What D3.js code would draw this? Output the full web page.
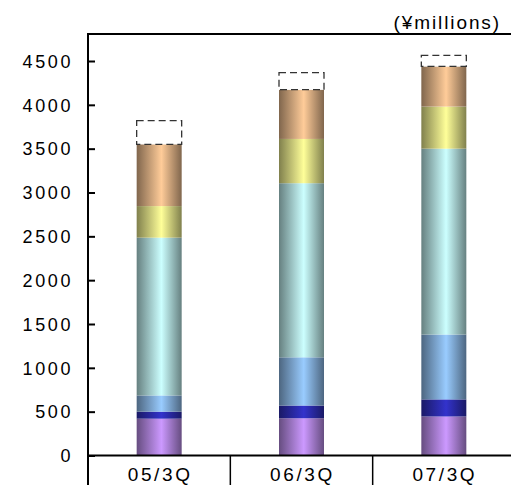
<!DOCTYPE html>
<html>
<head>
<meta charset="utf-8">
<script src="https://cdn.jsdelivr.net/npm/d3@7/dist/d3.min.js"></script>
<style>
  html, body { margin: 0; padding: 0; background: #fff; }
  svg { display: block; }
</style>
</head>
<body>
<svg id="chart" width="511" height="485"></svg>
<script>
// Quarterly figures (¥ millions), stacked from the bottom up
const periods = ["05/3Q", "06/3Q", "07/3Q"];
const seriesKeys = ["s1", "s2", "s3", "s4", "s5", "s6"];
const s1 = [420, 425, 445];
const s2 = [80, 145, 195];
const s3 = [185, 550, 740];
const s4 = [1800, 1986, 2120];
const s5 = [360, 505, 480];
const s6 = [705, 562, 458];
// Dashed outline above each stack (target / forecast portion)
const outlineTop = [3820, 4367, 4565];
const yTicks = [0, 500, 1000, 1500, 2000, 2500, 3000, 3500, 4000, 4500];
const unitLabel = "(¥millions)";

const seriesColors = ["#cc99ff", "#3333cc", "#99ccff", "#ccffff", "#ffff99", "#ffcc99"];

const values = [s1, s2, s3, s4, s5, s6];
const table = periods.map((p, i) => {
  const row = { period: p };
  seriesKeys.forEach((k, j) => { row[k] = values[j][i]; });
  return row;
});

const svg = d3.select("#chart");
const plotLeft = 88, plotRight = 515, plotTop = 34, zeroY = 455.5;
const labelFont = "'Liberation Sans', Arial, sans-serif";

const x = d3.scaleBand().domain(periods).range([plotLeft, plotRight]).paddingInner(0).paddingOuter(0);
const y = d3.scaleLinear().domain([0, 4500]).range([zeroY, 61]);
const barW = 45;

// Cylinder-like horizontal shading for each series colour
const defs = svg.append("defs");
seriesColors.forEach((c, i) => {
  const dark = d3.interpolateRgb(c, "#000")(0.5);
  const g = defs.append("linearGradient").attr("id", "grad" + i)
    .attr("x1", "0%").attr("x2", "100%").attr("y1", "0%").attr("y2", "0%");
  g.append("stop").attr("offset", "0%").attr("stop-color", dark);
  g.append("stop").attr("offset", "55%").attr("stop-color", c);
  g.append("stop").attr("offset", "100%").attr("stop-color", dark);
});

const stack = d3.stack().keys(seriesKeys);
const layers = stack(table);

const barsG = svg.append("g");
layers.forEach((layer, li) => {
  barsG.selectAll(null).data(layer).enter().append("rect")
    .attr("x", d => x(d.data.period) + x.bandwidth() / 2 - barW / 2)
    .attr("width", barW)
    .attr("y", d => y(d[1]))
    .attr("height", d => y(d[0]) - y(d[1]))
    .attr("fill", `url(#grad${li})`);
});

// Dashed outlines sitting on top of each stack
const totals = table.map(r => seriesKeys.reduce((a, k) => a + r[k], 0));
svg.append("g").selectAll("rect").data(periods).enter().append("rect")
  .attr("x", (p) => x(p) + x.bandwidth() / 2 - barW / 2)
  .attr("width", barW)
  .attr("y", (p, i) => y(outlineTop[i]))
  .attr("height", (p, i) => y(totals[i]) - y(outlineTop[i]))
  .attr("fill", "#fff")
  .attr("stroke", "#333")
  .attr("stroke-width", 1.3)
  .attr("stroke-dasharray", "7,4");

// Y axis with inward ticks
const yAxis = d3.axisLeft(y).tickValues(yTicks).tickFormat(d3.format("d")).tickSize(0).tickPadding(0);
const yg = svg.append("g").attr("transform", `translate(${plotLeft},0)`).call(yAxis);
yg.select(".domain").remove();
yg.selectAll(".tick text")
  .attr("x", -15)
  .attr("dy", "0.35em")
  .style("font-family", labelFont)
  .style("font-size", "18px")
  .style("letter-spacing", "2.6px")
  .attr("fill", "#000");
yg.selectAll(".tick").append("line")
  .attr("x1", 0).attr("x2", 7).attr("stroke", "#000").attr("stroke-width", 2);

// Frame lines
svg.append("line").attr("x1", plotLeft).attr("x2", plotLeft).attr("y1", plotTop).attr("y2", 485)
  .attr("stroke", "#000").attr("stroke-width", 2);
svg.append("line").attr("x1", plotLeft - 1).attr("x2", 511).attr("y1", plotTop).attr("y2", plotTop)
  .attr("stroke", "#000").attr("stroke-width", 2);
svg.append("line").attr("x1", plotLeft - 1).attr("x2", 511).attr("y1", zeroY).attr("y2", zeroY)
  .attr("stroke", "#000").attr("stroke-width", 2);

// Category row under the axis
svg.append("g").selectAll("line").data(periods.slice(1)).enter().append("line")
  .attr("x1", p => x(p)).attr("x2", p => x(p))
  .attr("y1", zeroY).attr("y2", 485)
  .attr("stroke", "#000").attr("stroke-width", 1.5);
svg.append("g").selectAll("text").data(periods).enter().append("text")
  .attr("x", p => x(p) + x.bandwidth() / 2 + 1)
  .attr("y", 481)
  .attr("text-anchor", "middle")
  .style("font-family", labelFont)
  .style("font-size", "19px")
  .style("letter-spacing", "2.6px")
  .text(p => p);

// Unit label
svg.append("text")
  .attr("x", 501).attr("y", 29)
  .attr("text-anchor", "end")
  .style("font-family", labelFont)
  .style("font-size", "19px")
  .style("letter-spacing", "1.9px")
  .text(unitLabel);
</script>
</body>
</html>
